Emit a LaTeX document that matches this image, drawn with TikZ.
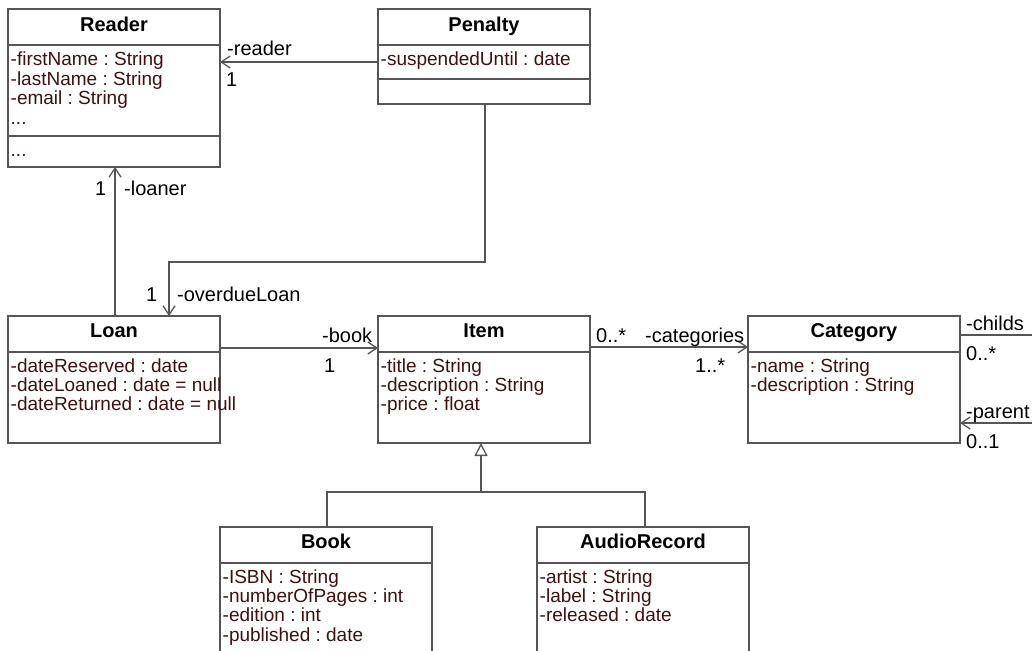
\documentclass[tikz,border=0pt]{standalone}
\usepackage{fontspec}
\setmainfont{Liberation Sans}
\usetikzlibrary{arrows.meta}
\definecolor{linegray}{HTML}{555555}
\definecolor{attrcol}{HTML}{3F1010}
\frenchspacing

% one attribute line per node: prefix, x, first baseline, list of lines
\newcommand\attrlines[4]{%
  \foreach \t [count=\i] in {#4} {\node[attr] (#1-\i) at (#2,{#3+19.4*(\i-1)}) {\t};}}

\begin{document}
\begin{tikzpicture}[x=1pt,y=-1pt,
  classbox/.style={draw=linegray, line width=1.4pt, inner sep=0pt, outer sep=0pt,
    anchor=north west, minimum width=212pt},
  sepline/.style={draw=linegray, line width=1.4pt},
  ctitle/.style={font=\fontsize{20}{22}\selectfont\bfseries, anchor=base, inner sep=0pt},
  attr/.style={font=\fontsize{19}{19}\selectfont\frenchspacing, text=attrcol, anchor=base west, inner sep=0pt},
  lbl/.style={font=\fontsize{20}{22}\selectfont, anchor=base west, inner sep=0pt},
  link/.style={draw=linegray, line width=1.3pt},
  assoc/.style={link, -{Straight Barb[length=9pt,width=12pt]}},
  inherit/.style={link, -{Triangle[open,length=13pt,width=13pt,fill=white]}}]

\useasboundingbox (0,0) rectangle (1032,650);
\fill[white] (0,0) rectangle (1032,650);
\clip (0,0) rectangle (1032,650);

% ---- classes ----
\node[classbox, minimum height=158pt] (reader) at (8,9) {};
\draw[sepline] (8,45) -- (220,45);
\draw[sepline] (8,136) -- (220,136);
\node[ctitle] (reader-t) at (114,31.5) {Reader};
\attrlines{reader}{10.5}{66}{-firstName : String,-lastName : String,-email : String}
\node[attr] (reader-more) at (10.5,124.2) {...};
\node[attr] (reader-op) at (10.5,156) {...};

\node[classbox, minimum height=95pt] (penalty) at (378,9) {};
\draw[sepline] (378,45) -- (590,45);
\draw[sepline] (378,79) -- (590,79);
\node[ctitle] (penalty-t) at (484,31.5) {Penalty};
\attrlines{penalty}{380.5}{66}{-suspendedUntil : date}

\node[classbox, minimum height=127pt] (loan) at (8,316) {};
\draw[sepline] (8,352) -- (220,352);
\node[ctitle] (loan-t) at (114,337) {Loan};
\attrlines{loan}{10.5}{372}{-dateReserved : date,-dateLoaned : date = null,-dateReturned : date = null}

\node[classbox, minimum height=127pt] (item) at (378,316) {};
\draw[sepline] (378,352) -- (590,352);
\node[ctitle] (item-t) at (484,337) {Item};
\attrlines{item}{380.5}{372}{-title : String,-description : String,-price : float}

\node[classbox, minimum height=127pt] (category) at (748,316) {};
\draw[sepline] (748,352) -- (960,352);
\node[ctitle] (category-t) at (854,337) {Category};
\attrlines{category}{750.5}{372}{-name : String,-description : String}

\node[classbox, minimum height=150pt] (book) at (220,527) {};
\draw[sepline] (220,563) -- (432,563);
\node[ctitle] (book-t) at (326,548) {Book};
\attrlines{book}{222.5}{583}{-ISBN : String,-numberOfPages : int,-edition : int,-published : date}

\node[classbox, minimum height=150pt] (audio) at (537,527) {};
\draw[sepline] (537,563) -- (749,563);
\node[ctitle] (audio-t) at (643,548) {AudioRecord};
\attrlines{audio}{539.5}{583}{-artist : String,-label : String,-released : date}

% ---- associations ----
\draw[assoc] (penalty.west |- 0,62) -- (reader.east |- 0,62);
\node[lbl] (l-reader) at (227,56) {-reader};
\node[lbl] (m-reader) at (226,87) {1};

\draw[assoc] (loan.north -| 115,0) -- (reader.south -| 115,0);
\node[lbl] (m-loaner) at (95,195) {1};
\node[lbl] (l-loaner) at (124,195) {-loaner};

\draw[assoc] (penalty.south -| 485,0) -- (485,262) -| (loan.north -| 169,0);
\node[lbl] (m-overdue) at (146,301) {1};
\node[lbl] (l-overdue) at (177,301) {-overdueLoan};

\draw[assoc] (loan.east |- 0,348) -- (item.west |- 0,348);
\node[lbl] (l-book) at (322,342) {-book};
\node[lbl] (m-book) at (324,372) {1};

\draw[assoc] (item.east |- 0,347) -- (category.west |- 0,347);
\node[lbl] (m-catsrc) at (596,342) {0..*};
\node[lbl] (l-cat) at (645,342) {-categories};
\node[lbl] (m-cat) at (695,372) {1..*};

\coordinate (childsend) at (1040,335);
\draw[link] (category.east |- 0,335) -- (childsend);
\node[lbl] (l-childs) at (966,330) {-childs};
\node[lbl] (m-childs) at (966,360) {0..*};

\coordinate (parentend) at (1040,423);
\draw[assoc] (parentend) -- (category.east |- 0,423);
\node[lbl] (l-parent) at (966,418) {-parent};
\node[lbl] (m-parent) at (966,448) {0..1};

% ---- generalization ----
\draw[link] (book.north -| 327,0) |- (645,492) -- (audio.north -| 645,0);
\draw[inherit] (481,492) -- (item.south -| 481,0);

\end{tikzpicture}
\end{document}
